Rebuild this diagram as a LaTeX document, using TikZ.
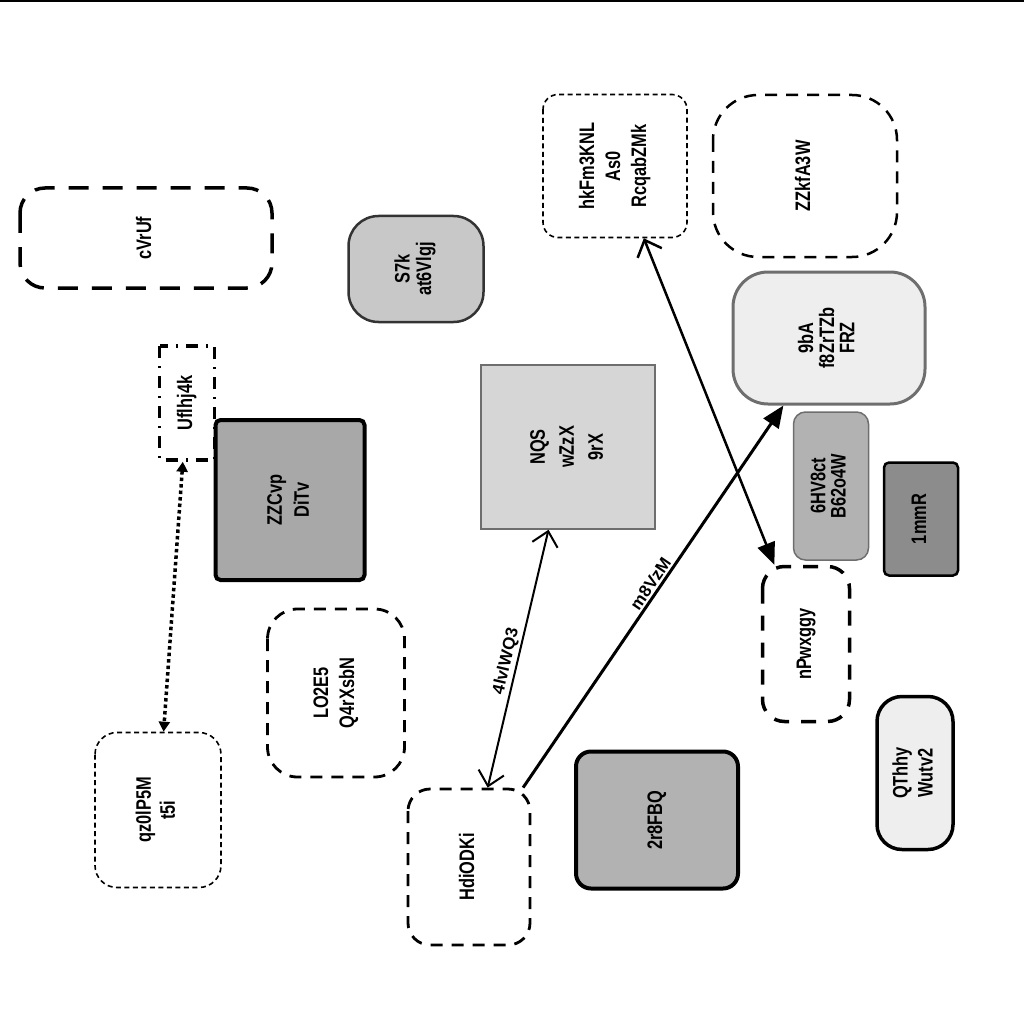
\documentclass[tikz,border=0pt]{standalone}
\usepackage{fontspec}
\setmainfont{Liberation Sans}
\usepackage{graphicx}
\usepackage{tikz}
\usepackage{xcolor}
\usetikzlibrary{arrows.meta}
\definecolor{INK}{RGB}{0,0,0}
\definecolor{RIM}{RGB}{110,110,110}
\definecolor{MIST}{RGB}{238,238,238}
\definecolor{PALE}{RGB}{214,214,214}
\definecolor{SILVER}{RGB}{200,200,200}
\definecolor{ASH}{RGB}{178,178,178}
\definecolor{STONE}{RGB}{168,168,168}
\definecolor{SLATE}{RGB}{140,140,140}
% narrow bold text, several lines (optional: line distance)
\newcommand{\cnd}[2][25]{\scalebox{0.78}[1]{\bfseries\fontsize{21}{#1}\selectfont\begin{tabular}{@{}c@{}}#2\end{tabular}}}

\begin{document}
\begin{tikzpicture}[x=1pt,y=-1pt,font=\fontsize{21}{19.5}\selectfont]
    \tikzset{box/.style={rotate=90,align=center,inner sep=0pt,draw=INK},
      wide dash/.style={box,line width=3.5pt,dash pattern=on 20pt off 14pt},
      mid dash/.style={box,line width=2.8pt,dash pattern=on 12pt off 9pt},
      fine dash/.style={box,line width=1.6pt,dash pattern=on 5pt off 3.5pt},
      solid box/.style={box,line width=3.5pt},
      lbl/.style={font=\fontsize{17}{17}\selectfont\bfseries,sloped,above,inner sep=2pt}}
    \useasboundingbox (0,0) rectangle (1024,1024);
    \draw[INK,line width=2.5pt] (0,1) -- (1024,1);
    % left column
    \node[wide dash,rounded corners=25pt,minimum width=100pt,minimum height=252pt] (cvr) at (146,238) {\cnd{cVrUf}};
    \node[box,line width=3.5pt,dash pattern=on 12pt off 8pt on 2pt off 8pt,minimum width=114pt,minimum height=55pt] (ufl) at (187,403) {\cnd{Uflhj4k}};
    \node[fine dash,rounded corners=22pt,minimum width=155pt,minimum height=126pt] (qz0) at (158,810) {\cnd[24]{qz0lP5M\\t5i}};
    % middle
    \node[box,draw=INK!80,line width=2.5pt,fill=SILVER,rounded corners=30pt,minimum width=106pt,minimum height=135pt] (s7k) at (416,269) {\cnd[21]{S7k\\at6Vlgj}};
    \node[solid box,line width=4pt,fill=STONE,rounded corners=5pt,minimum width=160pt,minimum height=149pt] (zzc) at (290,500) {\cnd[27]{ZZCvp\\DiTv}};
    \node[mid dash,rounded corners=30pt,minimum width=168pt,minimum height=137pt] (lo2) at (336,693) {\cnd[26]{LO2E5\\Q4rXsbN}};
    \node[box,draw=RIM,line width=1.5pt,fill=PALE,minimum width=164pt,minimum height=174pt] (nqs) at (568,447) {\cnd[29]{NQS\\wZzX\\9rX}};
    \node[mid dash,rounded corners=22pt,minimum width=156pt,minimum height=122pt] (hdi) at (469,867) {\cnd{HdiODKi}};
    \node[solid box,line width=4pt,fill=ASH,rounded corners=15pt,minimum width=137pt,minimum height=162pt] (fbq) at (657,820) {\cnd{2r8FBQ}};
    % right
    \node[fine dash,rounded corners=15pt,minimum width=143pt,minimum height=144pt] (hkf) at (615,166) {\cnd[26]{hkFm3KNL\\As0\\RcqabZMk}};
    \node[mid dash,line width=2.5pt,rounded corners=45pt,minimum width=162pt,minimum height=184pt] (zzk) at (805,176) {\cnd{ZZkfA3W}};
    \node[box,draw=RIM,line width=3pt,fill=MIST,rounded corners=35pt,minimum width=132pt,minimum height=192pt] (nba) at (829,338) {\cnd[19]{9bA\\f8ZrTZb\\FRZ}};
    \node[box,draw=RIM,line width=1.5pt,fill=ASH,rounded corners=12pt,minimum width=148pt,minimum height=75pt] (hv8) at (831,486) {\cnd[19]{6HV8ct\\B62o4W}};
    \node[solid box,line width=2.5pt,fill=SLATE,rounded corners=5pt,minimum width=113pt,minimum height=74pt] (mmr) at (921,519) {\cnd{1mmR}};
    \node[wide dash,dash pattern=on 15pt off 12pt,rounded corners=22pt,minimum width=155pt,minimum height=87pt] (npw) at (806,644) {\cnd{nPwxggy}};
    \node[solid box,fill=MIST,rounded corners=25pt,minimum width=153pt,minimum height=76pt] (qth) at (915,773) {\cnd[25]{QThhy\\Wutv2}};
    % connectors
    \draw[INK,line width=3.5pt,dash pattern=on 3.5pt off 3pt,{Triangle[length=10pt,width=11pt]}-{Triangle[length=10pt,width=11pt]}] (ufl) -- (qz0);
    \draw[INK,line width=2pt,{Straight Barb[length=14pt,width=26pt]}-{Straight Barb[length=14pt,width=26pt]}] (hdi) -- (nqs)
      node[lbl,pos=0.48] {4lvlWQ3};
    \draw[INK,line width=3pt,-{Triangle[length=22pt,width=18pt]}] (hdi) -- (nba)
      node[lbl,pos=0.52] {m8VzM};
    \draw[INK,line width=2.5pt,{Straight Barb[length=14pt,width=26pt]}-{Triangle[length=22pt,width=18pt]}] (hkf) -- (npw);
  \end{tikzpicture}
\end{document}
